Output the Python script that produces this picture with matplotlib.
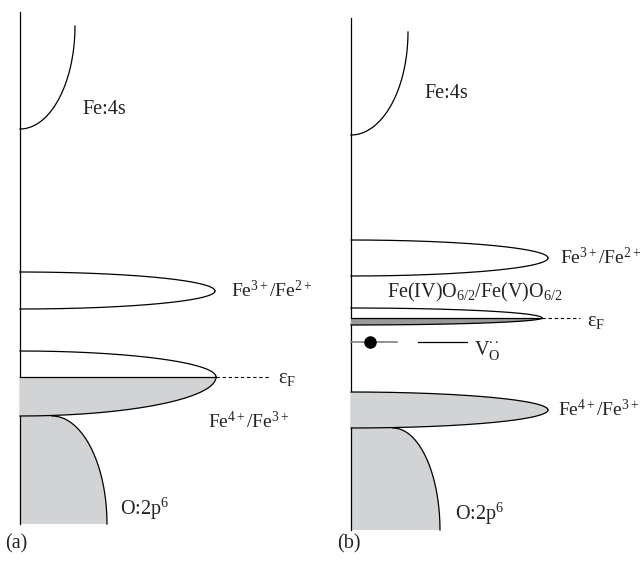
import numpy as np
import matplotlib
matplotlib.use("Agg")
import matplotlib.pyplot as plt

plt.rcParams['font.family'] = ['Liberation Serif', 'DejaVu Serif']
plt.rcParams['mathtext.fontset'] = 'custom'
plt.rcParams['mathtext.rm'] = 'Liberation Serif'
plt.rcParams['mathtext.it'] = 'Liberation Serif:italic'
plt.rcParams['mathtext.bf'] = 'Liberation Serif:bold'

# ---- schematic values (pixel units of the drawing) ----
panel_labels = ["(a)", "(b)"]
axis_x = [20, 351]
axis_top = [12, 18]
axis_bottom = [524, 530]

# Fe:4s band edge (start on axis, top point)
fe4s_base_y = [129, 135]
fe4s_top_x = [75, 408]
fe4s_top_y = [26, 32]

# d-bands: panel, top, centre (tip level), bottom, tip x, fill mode
band_panel = [0, 0, 1, 1, 1]
band_top = [272, 351, 240, 308, 392]
band_mid = [291, 377, 258, 318, 410]
band_bot = [309, 416, 276, 325, 428]
band_tip = [215, 216, 548, 542, 548]
band_fill = ["none", "lower", "none", "lower_dark", "full"]

# O:2p band
o2p_top = [416, 428]
o2p_start_x = [52, 393]
o2p_right_x = [107, 440]

# Fermi level dashes
fermi_y = [377, 318]
fermi_x0 = [216, 542]
fermi_x1 = [270, 580]

# oxygen vacancy level (panel b)
vo_y = 342
vo_dot_x = 370
vo_seg1 = [351, 397]
vo_seg2 = [418, 467]

gray = '#d1d3d4'
dark = '#9a9a9a'

fig = plt.figure(figsize=(6.42, 5.66), dpi=100)
ax = fig.add_axes([0, 0, 1, 1])
ax.set_xlim(0, 642)
ax.set_ylim(566, 0)
ax.axis('off')
lw = 0.9

t = np.linspace(0, np.pi / 2, 200)

for p in range(2):
    x0 = axis_x[p]
    # axis
    ax.plot([x0, x0], [axis_top[p], axis_bottom[p]], color='black', lw=lw)
    # Fe:4s
    a = fe4s_top_x[p] - x0
    b = fe4s_base_y[p] - fe4s_top_y[p]
    ax.plot(x0 + a * np.sin(t), fe4s_top_y[p] + b * np.cos(t), color='black', lw=lw)
    # O:2p
    a = o2p_right_x[p] - o2p_start_x[p]
    b = axis_bottom[p] - o2p_top[p]
    xc = o2p_start_x[p] + a * np.sin(t)
    yc = axis_bottom[p] - b * np.cos(t)
    xs = np.concatenate([[x0, x0], xc])
    ys = np.concatenate([[axis_bottom[p], o2p_top[p]], yc])
    ax.fill(xs, ys, color=gray, lw=0)
    ax.plot(xc, yc, color='black', lw=lw)
    # Fermi
    ax.plot([fermi_x0[p], fermi_x1[p]], [fermi_y[p], fermi_y[p]], color='black',
            lw=0.8, ls=(0, (3, 2.5)))

for i in range(len(band_top)):
    p = band_panel[i]
    x0 = axis_x[p]
    a = band_tip[i] - x0
    xx = x0 + a * np.cos(t)
    up = band_mid[i] - (band_mid[i] - band_top[i]) * np.sin(t)
    lo = band_mid[i] + (band_bot[i] - band_mid[i]) * np.sin(t)
    f = band_fill[i]
    if f == "full":
        ax.fill(np.concatenate([xx, xx[::-1]]), np.concatenate([up, lo[::-1]]), color=gray, lw=0, zorder=2)
    elif f in ("lower", "lower_dark"):
        c = gray if f == "lower" else dark
        ax.fill(np.concatenate([xx, [x0]]), np.concatenate([lo, [band_mid[i]]]), color=c, lw=0, zorder=2)
        ax.plot([x0, band_tip[i]], [band_mid[i], band_mid[i]], color='black', lw=lw, zorder=3)
    ax.plot(xx, up, color='black', lw=lw, zorder=3)
    ax.plot(xx, lo, color='black', lw=lw, zorder=3)

# oxygen vacancy
ax.plot(vo_seg1, [vo_y, vo_y], color='#808080', lw=1.2)
ax.plot(vo_seg2, [vo_y, vo_y], color='black', lw=0.9)
ax.plot([vo_dot_x], [vo_y], 'o', color='black', ms=8)

fs = 14.5
fs2 = 14
txt = dict(fontsize=fs, ha='left', va='baseline', color='#222222')
txt2 = dict(fontsize=fs2, ha='left', va='baseline', color='#222222')
ax.text(82, 114, "Fe:4s", **txt)
ax.text(424, 98, "Fe:4s", **txt)
ax.text(231, 297, r"Fe$^{3+}$/Fe$^{2+}$", **txt2)
ax.text(560, 264, r"Fe$^{3+}$/Fe$^{2+}$", **txt2)
ax.text(208, 428, r"Fe$^{4+}$/Fe$^{3+}$", **txt2)
ax.text(558, 416, r"Fe$^{4+}$/Fe$^{3+}$", **txt2)
ax.text(120, 515, r"O:2p$^{6}$", **txt)
ax.text(455, 520, r"O:2p$^{6}$", **txt)
ax.text(278, 383, r"ε$_{\mathrm{F}}$", **txt)
ax.text(587, 326, r"ε$_{\mathrm{F}}$", **txt)
ax.text(387, 297, r"Fe(IV)O$_{6/2}$/Fe(V)O$_{6/2}$", **txt)
ax.text(474, 355, r"V$_{\mathrm{O}}^{\bullet\bullet}$", **txt)
ax.text(5, 548, panel_labels[0], **txt)
ax.text(337, 548, panel_labels[1], **txt)

fig.savefig("out.png", dpi=100)
